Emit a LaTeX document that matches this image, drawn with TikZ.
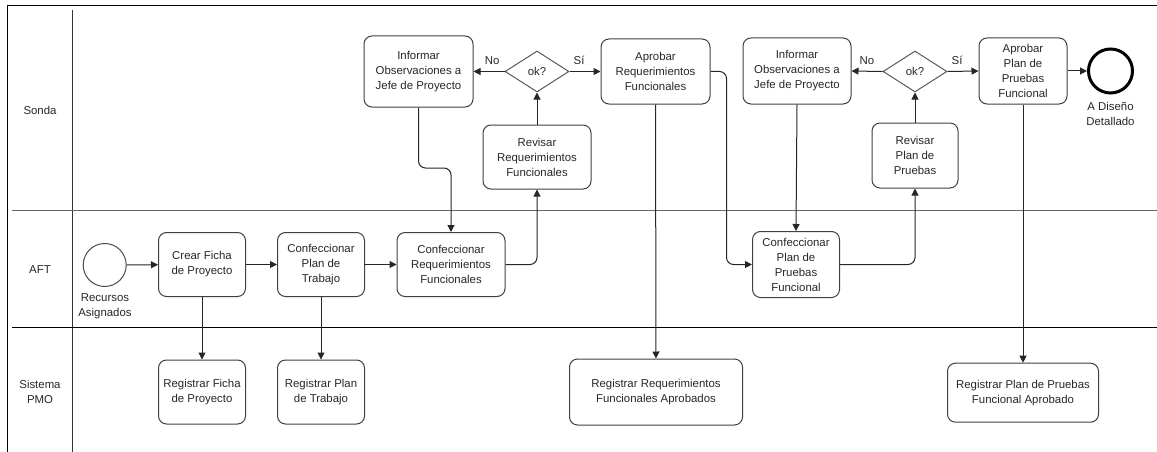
\documentclass[tikz,border=0pt]{standalone}
\usepackage{fontspec}
\setmainfont{Liberation Sans}
\usetikzlibrary{arrows.meta,shapes.geometric}
\begin{document}
\begin{tikzpicture}[x=1pt,y=-1pt,
  txt/.style={font=\fontsize{11.4}{15}\selectfont, text=black!85},
  task/.style={txt, draw=black!75, line width=1pt, rounded corners=8pt, align=center, inner sep=2pt},
  gate/.style={txt, draw=black!65, line width=1pt, diamond, minimum width=64pt, minimum height=41pt, inner sep=0pt},
  startev/.style={circle, draw=black!70, line width=1pt, minimum size=43pt, inner sep=0pt},
  endev/.style={circle, draw=black, line width=3pt, minimum size=44pt, inner sep=0pt},
  flow/.style={draw=black!85, line width=1pt, -{Triangle[length=7pt,width=7pt]}, rounded corners=7pt},
  lbl/.style={txt, align=center},
  elbl/.style={txt, above, inner sep=0pt, yshift=6pt}
]
\useasboundingbox (0,0) rectangle (1157,452);

% pool frame and lane separators
\draw[line width=1pt, black] (7,452) -- (7,6) -- (1157,6);
\draw[line width=1pt, black!80] (72,10) -- (72,452);
\draw[line width=1pt, black!60] (12,210.5) -- (1157,210.5);
\draw[line width=1pt, black] (12,327.5) -- (1157,327.5);

% lane names
\node[lbl] (lsonda) at (40,110) {Sonda};
\node[lbl] (laft) at (40,270) {AFT};
\node[lbl] (lpmo) at (40,392) {Sistema\\PMO};

% Sonda lane
\node[task, minimum width=109pt, minimum height=71pt] (inf1) at (418.5,71.5) {Informar\\Observaciones a\\Jefe de Proyecto};
\node[gate] (ok1) at (537,71.5) {ok?};
\node[task, minimum width=109pt, minimum height=65pt] (aprRF) at (655.5,71.5) {Aprobar\\Requerimientos\\Funcionales};
\node[task, minimum width=108pt, minimum height=64pt] (revRF) at (537,157) {Revisar\\Requerimientos\\Funcionales};
\node[task, minimum width=108pt, minimum height=66pt] (inf2) at (797,71) {Informar\\Observaciones a\\Jefe de Proyecto};
\node[gate] (ok2) at (915,71.5) {ok?};
\node[task, minimum width=88pt, minimum height=66pt] (aprPP) at (1023,71) {Aprobar\\Plan de\\Pruebas\\Funcional};
\node[task, minimum width=86pt, minimum height=65pt] (revPP) at (915,155.5) {Revisar\\Plan de\\Pruebas};
\node[endev] (fin) at (1110.5,71) {};
\node[lbl] (finlbl) at (1110.5,114) {A Diseño\\Detallado};

% AFT lane
\node[startev] (ini) at (104.7,265) {};
\node[lbl] (inilbl) at (105,306) {Recursos\\Asignados};
\node[task, minimum width=87pt, minimum height=64pt] (crear) at (202,264.5) {Crear Ficha\\de Proyecto};
\node[task, minimum width=87pt, minimum height=64pt] (confPlan) at (321,264.5) {Confeccionar\\Plan de\\Trabajo};
\node[task, minimum width=108pt, minimum height=64pt] (confReq) at (451,264.5) {Confeccionar\\Requerimientos\\Funcionales};
\node[task, minimum width=87pt, minimum height=66pt] (confPP) at (796,264.5) {Confeccionar\\Plan de\\Pruebas\\Funcional};

% Sistema PMO lane
\node[task, minimum width=87pt, minimum height=64pt] (regFicha) at (202,392) {Registrar Ficha\\de Proyecto};
\node[task, minimum width=87pt, minimum height=64pt] (regPlan) at (321,392) {Registrar Plan\\de Trabajo};
\node[task, minimum width=173pt, minimum height=66pt] (regReq) at (656,392) {Registrar Requerimientos\\Funcionales Aprobados};
\node[task, minimum width=151pt, minimum height=59pt] (regPP) at (1023,392.7) {Registrar Plan de Pruebas\\Funcional Aprobado};

% helper rows for bends
\coordinate (jog) at (0,168);

% sequence flows
\draw[flow] (ini) -- (crear);
\draw[flow] (crear) -- (confPlan);
\draw[flow] (confPlan) -- (confReq);
\draw[flow] (crear) -- (regFicha);
\draw[flow] (confPlan) -- (regPlan);
\draw[flow] (confReq.east) -| (revRF.south);
\draw[flow] (revRF) -- (ok1);
\draw[flow] (ok1.west) -- node[elbl, pos=0.4] {No} (inf1.east);
\draw[flow] (ok1.east) -- node[elbl, pos=0.31] {Sí} (aprRF.west);
\draw[flow] (inf1.south) -- (inf1.south |- jog) -| (confReq.north);
\draw[flow] (aprRF) -- (regReq);
\draw[flow] (aprRF.east) -- ++(16,0) |- (confPP.west);
\draw[flow] (inf2.south) -- (confPP.north);
\draw[flow] (confPP.east) -| (revPP.south);
\draw[flow] (revPP) -- (ok2);
\draw[flow] (ok2.west) -- node[elbl, pos=0.5] {No} (inf2.east);
\draw[flow] (ok2.east) -- node[elbl, pos=0.31] {Sí} (aprPP.west);
\draw[flow] (aprPP) -- (fin);
\draw[flow] (aprPP) -- (regPP);
\end{tikzpicture}
\end{document}
